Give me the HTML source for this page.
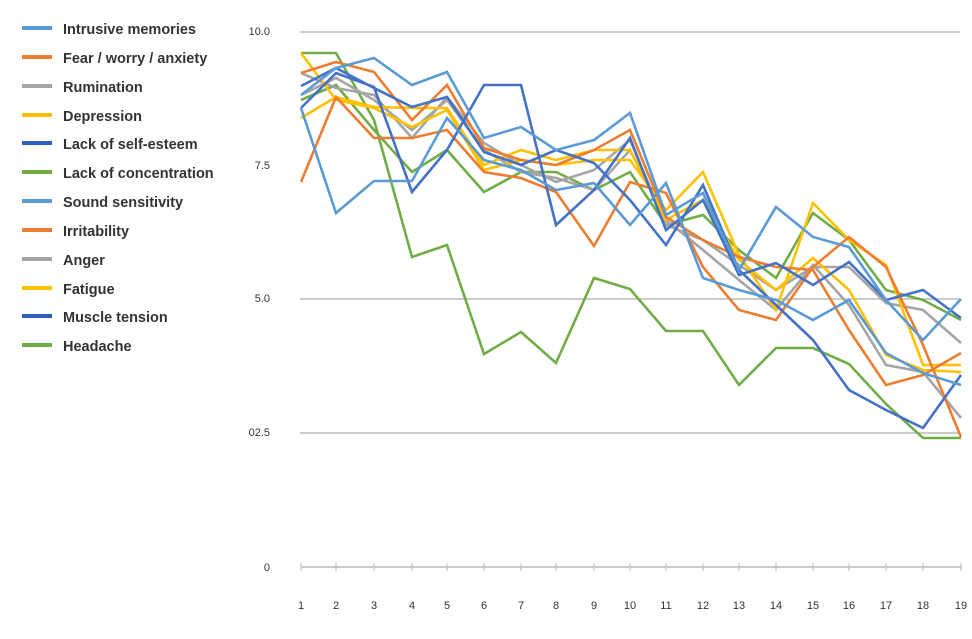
<!DOCTYPE html>
<html><head><meta charset="utf-8"><style>
html,body{margin:0;padding:0;background:#fff;width:972px;height:639px;overflow:hidden}
svg{display:block}
</style></head><body>
<svg width="972" height="639" viewBox="0 0 972 639" font-family="Liberation Sans, sans-serif">
<g stroke="#bbbbbb" stroke-width="1.5">
<line x1="300" y1="32" x2="960" y2="32"/>
<line x1="300" y1="299" x2="960" y2="299"/>
<line x1="300" y1="433" x2="960" y2="433"/>
<line x1="301" y1="567" x2="962" y2="567"/>
<g stroke-width="1">
<line x1="301" y1="563" x2="301" y2="571"/><line x1="336" y1="563" x2="336" y2="571"/><line x1="374" y1="563" x2="374" y2="571"/><line x1="412" y1="563" x2="412" y2="571"/><line x1="447" y1="563" x2="447" y2="571"/><line x1="484" y1="563" x2="484" y2="571"/><line x1="521" y1="563" x2="521" y2="571"/><line x1="556" y1="563" x2="556" y2="571"/><line x1="594" y1="563" x2="594" y2="571"/><line x1="630" y1="563" x2="630" y2="571"/><line x1="666" y1="563" x2="666" y2="571"/><line x1="703" y1="563" x2="703" y2="571"/><line x1="739" y1="563" x2="739" y2="571"/><line x1="776" y1="563" x2="776" y2="571"/><line x1="813" y1="563" x2="813" y2="571"/><line x1="849" y1="563" x2="849" y2="571"/><line x1="886" y1="563" x2="886" y2="571"/><line x1="923" y1="563" x2="923" y2="571"/><line x1="961" y1="563" x2="961" y2="571"/>
</g></g>
<g font-size="11" fill="#333" text-anchor="end">
<text x="270" y="35">10.0</text><text x="270" y="169">7.5</text><text x="270" y="302">5.0</text><text x="270" y="436">02.5</text><text x="270" y="571">0</text>
</g>
<g font-size="11" fill="#333" text-anchor="middle">
<text x="301" y="609">1</text><text x="336" y="609">2</text><text x="374" y="609">3</text><text x="412" y="609">4</text><text x="447" y="609">5</text><text x="484" y="609">6</text><text x="521" y="609">7</text><text x="556" y="609">8</text><text x="594" y="609">9</text><text x="630" y="609">10</text><text x="666" y="609">11</text><text x="703" y="609">12</text><text x="739" y="609">13</text><text x="776" y="609">14</text><text x="813" y="609">15</text><text x="849" y="609">16</text><text x="886" y="609">17</text><text x="923" y="609">18</text><text x="961" y="609">19</text>
</g>
<g fill="none" stroke-width="2.6" stroke-linejoin="miter">
<!-- Headache -->
<polyline stroke="#70ad47" points="301,53 336,53 374,120 412,257 447,245 484,354 521,332 556,363 594,278 630,289 666,331 703,331 739,385 776,348 813,348 849,364 886,404 923,438 961,438"/>
<!-- Lack of concentration -->
<polyline stroke="#70ad47" points="301,100 336,85 374,130 412,172 447,150 484,192 521,172 556,172 594,190 630,172 666,225 703,215 739,250 776,278 813,213 849,240 886,290 923,300 961,320"/>
<!-- Rumination -->
<polyline stroke="#a5a5a5" points="301,73 336,88 374,95 412,138 447,97 484,143 521,165 556,182 594,170 630,140 666,225 703,240 739,265 776,290 813,267 849,267 886,303 923,310 961,343"/>
<!-- Anger -->
<polyline stroke="#a5a5a5" points="301,95 336,78 374,100 412,130 447,100 484,150 521,172 556,178 594,190 630,150 666,220 703,250 739,280 776,310 813,265 849,305 886,365 923,372 961,418"/>
<!-- Depression -->
<polyline stroke="#ffc000" points="301,118 336,97 374,107 412,108 447,108 484,165 521,150 556,160 594,150 630,150 666,220 703,200 739,260 776,290 813,258 849,290 886,355 923,370 961,372"/>
<!-- Fatigue -->
<polyline stroke="#ffc000" points="301,53 336,100 374,108 412,127 447,110 484,170 521,160 556,165 594,160 630,160 666,210 703,172 739,255 776,310 813,203 849,240 886,265 923,365 961,365"/>
<!-- Irritability -->
<polyline stroke="#ed7d31" points="301,182 336,97 374,138 412,138 447,130 484,172 521,178 556,192 594,246 630,182 666,193 703,267 739,310 776,320 813,267 849,237 886,267 923,345 961,437"/>
<!-- Fear -->
<polyline stroke="#ed7d31" points="301,73 336,62 374,72 412,120 447,85 484,148 521,160 556,165 594,150 630,130 666,217 703,240 739,257 776,267 813,270 849,330 886,385 923,375 961,353"/>
<!-- Lack of self-esteem -->
<polyline stroke="#4472c4" points="301,86 336,68 374,88 412,107 447,97 484,152 521,165 556,150 594,163 630,200 666,245 703,185 739,270 776,305 813,340 849,390 886,410 923,428 961,375"/>
<!-- Muscle tension -->
<polyline stroke="#4472c4" points="301,108 336,73 374,87 412,192 447,150 484,85 521,85 556,225 594,190 630,138 666,230 703,200 739,275 776,263 813,285 849,262 886,300 923,290 961,318"/>
<!-- Sound sensitivity -->
<polyline stroke="#5b9bd5" points="301,108 336,213 374,181 412,181 447,118 484,160 521,170 556,190 594,183 630,225 666,183 703,278 739,290 776,300 813,320 849,300 886,353 923,373 961,385"/>
<!-- Intrusive memories -->
<polyline stroke="#5b9bd5" points="301,95 336,68 374,58 412,85 447,72 484,138 521,127 556,150 594,140 630,113 666,215 703,193 739,270 776,207 813,237 849,247 886,300 923,340 961,299"/>
</g>
<g stroke-width="4">
<line x1="22" y1="28" x2="52" y2="28" stroke="#5b9bd5"/>
<line x1="22" y1="57" x2="52" y2="57" stroke="#ed7d31"/>
<line x1="22" y1="86" x2="52" y2="86" stroke="#a5a5a5"/>
<line x1="22" y1="115" x2="52" y2="115" stroke="#ffc000"/>
<line x1="22" y1="143" x2="52" y2="143" stroke="#2e5fbf"/>
<line x1="22" y1="172" x2="52" y2="172" stroke="#70ad47"/>
<line x1="22" y1="201" x2="52" y2="201" stroke="#5b9bd5"/>
<line x1="22" y1="230" x2="52" y2="230" stroke="#ed7d31"/>
<line x1="22" y1="259" x2="52" y2="259" stroke="#a5a5a5"/>
<line x1="22" y1="288" x2="52" y2="288" stroke="#ffc000"/>
<line x1="22" y1="316" x2="52" y2="316" stroke="#2e5fbf"/>
<line x1="22" y1="345" x2="52" y2="345" stroke="#70ad47"/>
</g>
<g font-size="14.5" font-weight="bold" fill="#333">
<text x="63" y="34">Intrusive memories</text>
<text x="63" y="63">Fear / worry / anxiety</text>
<text x="63" y="92">Rumination</text>
<text x="63" y="121">Depression</text>
<text x="63" y="149">Lack of self-esteem</text>
<text x="63" y="178">Lack of concentration</text>
<text x="63" y="207">Sound sensitivity</text>
<text x="63" y="236">Irritability</text>
<text x="63" y="265">Anger</text>
<text x="63" y="294">Fatigue</text>
<text x="63" y="322">Muscle tension</text>
<text x="63" y="351">Headache</text>
</g>
</svg>
</body></html>
